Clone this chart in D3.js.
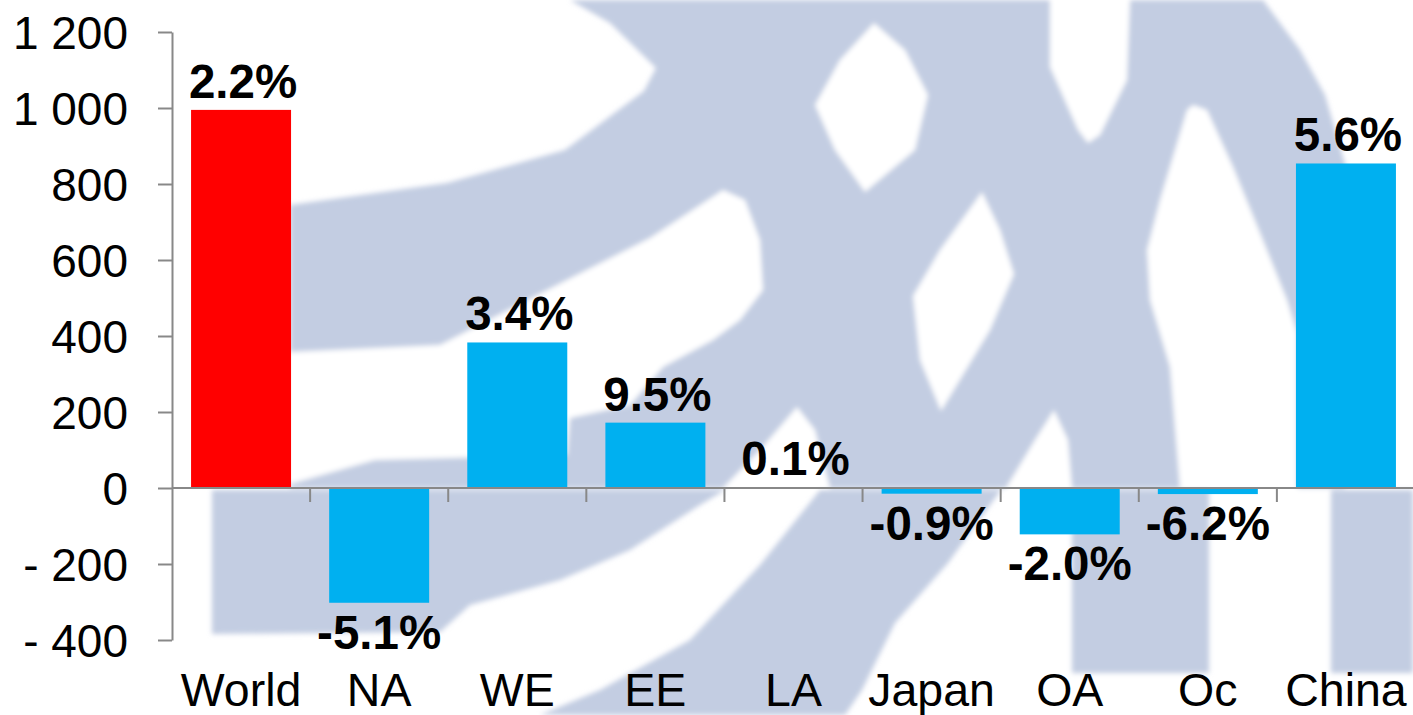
<!DOCTYPE html>
<html>
<head>
<meta charset="utf-8">
<script src="https://cdn.jsdelivr.net/npm/d3@7"></script>
<style>
  html, body { margin: 0; padding: 0; background: #ffffff; }
  svg { display: block; }
  text { font-family: "Liberation Sans", Arial, Helvetica, sans-serif; }
</style>
</head>
<body>
<svg id="chart" width="1413" height="715"></svg>
<script>
// ---- data ----
const categories = ["World", "NA", "WE", "EE", "LA", "Japan", "OA", "Oc", "China"];
const values = [995, -302, 383, 172, 2, -15, -122, -16, 854];
const growthLabels = ["2.2%", "-5.1%", "3.4%", "9.5%", "0.1%", "-0.9%", "-2.0%", "-6.2%", "5.6%"];
const highlight = ["World"];
const tickValues = [-400, -200, 0, 200, 400, 600, 800, 1000, 1200];
const tickLabels = ["- 400", "- 200", "0", "200", "400", "600", "800", "1 000", "1 200"];

// ---- decorative background watermark (logo) ----
const watermarkGray = [
  [[570,0],[1263,0],[1300,50],[1325,95],[1345,164],[1345,488],[290,488],[290,205],[447,183],[565,150],[644,91],[656,68],[610,23]],
  [[212,490],[725,490],[700,505],[630,550],[560,580],[470,605],[440,632],[212,634]],
  [[820,490],[1001,490],[948,563],[895,623],[862,690],[845,715],[540,715],[600,690],[690,640],[760,565]],
  [[1072,490],[1209,490],[1209,673],[1072,673]],
  [[1331,490],[1413,490],[1413,673],[1331,673]]
];
const watermarkWhite = [
  [[290,352],[440,345],[563,282],[650,238],[723,190],[745,200],[760,240],[763,290],[740,320],[713,340],[663,367],[630,405],[570,418],[567,455],[375,460],[290,484]],
  [[723,488],[760,450],[797,407],[815,430],[830,488]],
  [[1006,488],[1035,440],[1054,410],[1068,440],[1072,488]],
  [[1193,105],[1207,110],[1233,167],[1260,233],[1287,300],[1297,333],[1297,488],[1180,488],[1170,367],[1150,300],[1147,250],[1160,200],[1187,110]],
  [[982,192],[1000,230],[1014,274],[990,330],[941,411],[920,360],[913,296],[940,250]],
  [[874,23],[905,50],[928,95],[915,150],[865,192],[835,150],[815,105],[840,60]],
  [[1050,0],[1130,0],[1127,80],[1100,135],[1088,143],[1078,130],[1050,67]]
];

const svg = d3.select("#chart");
const W = 1413, H = 715;

const defs = svg.append("defs");
defs.append("filter").attr("id", "soft")
  .attr("x", "-10%").attr("y", "-10%").attr("width", "120%").attr("height", "120%")
  .append("feGaussianBlur").attr("stdDeviation", 2.5);

const wm = svg.append("g").attr("filter", "url(#soft)");
const line = d3.line().curve(d3.curveLinearClosed);
wm.selectAll("path.g").data(watermarkGray).join("path")
  .attr("class", "g").attr("d", line).attr("fill", "#c3cde2");
wm.selectAll("path.w").data(watermarkWhite).join("path")
  .attr("class", "w").attr("d", line).attr("fill", "#ffffff");

// ---- scales ----
const plotLeft = 172, plotRight = 1415, plotTop = 32, plotBottom = 640;
const x = d3.scaleBand().domain(categories).range([plotLeft, plotRight])
  .paddingInner(0.276).paddingOuter(0.138);
const y = d3.scaleLinear().domain([-400, 1200]).range([plotBottom, plotTop]);

const axisColor = "#888888";
const fs = 46;

// ---- bars ----
const data = categories.map((c, i) => ({ c, v: values[i], lab: growthLabels[i] }));
svg.append("g").selectAll("rect").data(data).join("rect")
  .attr("x", d => x(d.c))
  .attr("width", x.bandwidth())
  .attr("y", d => y(Math.max(0, d.v)))
  .attr("height", d => Math.abs(y(d.v) - y(0)))
  .attr("fill", d => highlight.includes(d.c) ? "#ff0000" : "#00b0f0");

// ---- y axis ----
const yAxis = d3.axisLeft(y)
  .tickValues(tickValues)
  .tickFormat((d, i) => tickLabels[i])
  .tickSize(14).tickSizeOuter(0).tickPadding(30);
const gy = svg.append("g").attr("transform", `translate(${plotLeft},0)`).call(yAxis);
gy.select(".domain").attr("stroke", axisColor).attr("stroke-width", 2);
gy.selectAll(".tick line").attr("stroke", axisColor).attr("stroke-width", 2);
gy.selectAll(".tick text")
  .attr("fill", "#000").attr("font-size", fs)
  .attr("font-family", "'Liberation Sans', Arial, sans-serif")
  .attr("dy", "0.35em");

// ---- x axis (zero line + category separators) ----
const y0 = y(0);
svg.append("line")
  .attr("x1", plotLeft).attr("x2", W).attr("y1", y0).attr("y2", y0)
  .attr("stroke", axisColor).attr("stroke-width", 2);
const step = x.step();
svg.append("g").selectAll("line").data(categories).join("line")
  .attr("x1", d => x(d) + x.bandwidth() + (step - x.bandwidth()) / 2)
  .attr("x2", d => x(d) + x.bandwidth() + (step - x.bandwidth()) / 2)
  .attr("y1", y0).attr("y2", y0 + 14)
  .attr("stroke", axisColor).attr("stroke-width", 2);

// ---- category labels ----
svg.append("g").selectAll("text").data(categories).join("text")
  .attr("x", d => x(d) + x.bandwidth() / 2)
  .attr("y", 706)
  .attr("text-anchor", "middle")
  .attr("font-size", 46.5)
  .attr("fill", "#000")
  .text(d => d);

// ---- value labels ----
svg.append("g").selectAll("text").data(data).join("text")
  .attr("x", d => x(d.c) + x.bandwidth() / 2 + (d.v >= 0 ? 2 : 0))
  .attr("y", d => d.v >= 0 ? y(d.v) - 12 : y(d.v) + 46)
  .attr("text-anchor", "middle")
  .attr("font-size", 47.5)
  .attr("font-weight", "bold")
  .attr("fill", "#000")
  .text(d => d.lab);
</script>
</body>
</html>
